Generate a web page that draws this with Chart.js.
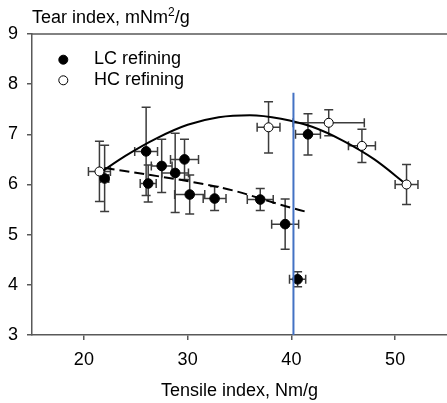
<!DOCTYPE html>
<html>
<head>
<meta charset="utf-8">
<script src="https://cdn.jsdelivr.net/npm/chart.js@4.4.0/dist/chart.umd.min.js"></script>
<style>
  html, body { margin: 0; padding: 0; background: #fff; }
  #wrap { width: 447px; height: 403px; position: relative; }
</style>
</head>
<body>
<div id="wrap"><canvas id="tearChart" width="447" height="403"></canvas></div>
<script>
// LC refining (filled circles)
const lcTensile = [22.0, 26.0, 26.2, 27.5, 28.8, 29.7, 30.2, 32.6, 37.0, 39.4, 40.6, 41.6];
const lcTear = [6.12, 6.66, 6.02, 6.37, 6.23, 6.50, 5.80, 5.72, 5.70, 5.21, 4.11, 7.00];
const lcTensileErr = [0.4, 1.1, 0.77, 1.0, 1.28, 1.35, 1.45, 1.1, 1.25, 1.3, 0.78, 1.2];
const lcTearErr = [0.66, 0.88, 0.37, 0.53, 0.79, 0.40, 0.39, 0.24, 0.22, 0.50, 0.15, 0.41];

// HC refining (open circles)
const hcTensile = [21.5, 37.8, 43.6, 46.8, 51.1];
const hcTear = [6.26, 7.14, 7.23, 6.77, 6.00];
const hcTensileErr = [1.06, 1.1, 3.43, 1.3, 1.1];
const hcTearErr = [0.60, 0.51, 0.26, 0.33, 0.40];

// fitted curves
const solidFitX = [21.6, 24, 27, 30, 33, 36, 39, 42, 45, 48, 51.1];
const solidFitY = [6.24, 6.57, 6.92, 7.19, 7.34, 7.38, 7.31, 7.15, 6.87, 6.50, 6.00];
const dashFitX = [22.0, 27.3, 30.2, 34.4, 38.9, 41.7];
const dashFitY = [6.33, 6.16, 6.06, 5.88, 5.60, 5.44];

// vertical marker line
const markerX = [40.2, 40.2];
const markerY = [7.83, 3];

const xTicks = [20, 30, 40, 50];
const yTicks = [3, 4, 5, 6, 7, 8, 9];

const FONT = 'Arial, "Liberation Sans", sans-serif';
const AXIS_GREY = '#595959';

function toPoints(xs, ys) {
    return xs.map((x, i) => ({ x: x, y: ys[i] }));
}

// Error bars, drawn under the markers
const errorBarPlugin = {
    id: 'errorBars',
    beforeDatasetsDraw(chart) {
        const ctx = chart.ctx;
        const xs = chart.scales.x, ys = chart.scales.y;
        const cap = 4.5;
        const groups = [
            [lcTensile, lcTear, lcTensileErr, lcTearErr],
            [hcTensile, hcTear, hcTensileErr, hcTearErr]
        ];
        ctx.save();
        ctx.strokeStyle = '#3c3c3c';
        ctx.lineWidth = 1.5;
        groups.forEach(g => {
            g[0].forEach((xv, i) => {
                const cx = xs.getPixelForValue(xv);
                const cy = ys.getPixelForValue(g[1][i]);
                const x1 = xs.getPixelForValue(xv - g[2][i]);
                const x2 = xs.getPixelForValue(xv + g[2][i]);
                const y1 = ys.getPixelForValue(g[1][i] + g[3][i]);
                const y2 = ys.getPixelForValue(g[1][i] - g[3][i]);
                ctx.beginPath();
                ctx.moveTo(x1, cy); ctx.lineTo(x2, cy);
                ctx.moveTo(x1, cy - cap); ctx.lineTo(x1, cy + cap);
                ctx.moveTo(x2, cy - cap); ctx.lineTo(x2, cy + cap);
                ctx.moveTo(cx, y1); ctx.lineTo(cx, y2);
                ctx.moveTo(cx - cap, y1); ctx.lineTo(cx + cap, y1);
                ctx.moveTo(cx - cap, y2); ctx.lineTo(cx + cap, y2);
                ctx.stroke();
            });
        });
        ctx.restore();
    }
};

// Top frame line, y title and legend
const decorPlugin = {
    id: 'decor',
    afterDraw(chart) {
        const ctx = chart.ctx;
        const area = chart.chartArea;
        ctx.save();
        ctx.strokeStyle = AXIS_GREY;
        ctx.lineWidth = 1.5;
        ctx.beginPath();
        ctx.moveTo(area.left, area.top);
        ctx.lineTo(area.right, area.top);
        ctx.stroke();

        ctx.fillStyle = '#000';
        ctx.textBaseline = 'alphabetic';
        ctx.textAlign = 'left';
        ctx.font = '18px ' + FONT;
        let tx = 32;
        const base = 23;
        const part1 = 'Tear index, mNm';
        ctx.fillText(part1, tx, base);
        tx += ctx.measureText(part1).width;
        ctx.font = '12px ' + FONT;
        ctx.fillText('2', tx, base - 7);
        tx += ctx.measureText('2').width;
        ctx.font = '18px ' + FONT;
        ctx.fillText('/g', tx, base);

        // legend
        const items = [
            { label: 'LC refining', fill: '#000', y: 59.7, base: 64.3 },
            { label: 'HC refining', fill: '#fff', y: 80.3, base: 85 }
        ];
        items.forEach(it => {
            ctx.beginPath();
            ctx.arc(63.3, it.y, 4.5, 0, Math.PI * 2);
            ctx.fillStyle = it.fill;
            ctx.fill();
            ctx.strokeStyle = '#000';
            ctx.lineWidth = 1;
            ctx.stroke();
            ctx.fillStyle = '#000';
            ctx.fillText(it.label, 94, it.base);
        });
        ctx.restore();
    }
};

document.addEventListener('DOMContentLoaded', function() {
    const ctx = document.getElementById('tearChart').getContext('2d');
    new Chart(ctx, {
        type: 'scatter',
        data: {
            datasets: [
                {
                    label: 'marker',
                    type: 'line',
                    data: toPoints(markerX, markerY),
                    borderColor: '#4472C4',
                    borderWidth: 2,
                    pointRadius: 0,
                    order: 0
                },
                {
                    label: 'HC refining',
                    data: toPoints(hcTensile, hcTear),
                    pointStyle: 'circle',
                    pointRadius: 4.5,
                    backgroundColor: '#fff',
                    borderColor: '#000',
                    borderWidth: 1,
                    order: 1
                },
                {
                    label: 'LC refining',
                    data: toPoints(lcTensile, lcTear),
                    pointStyle: 'circle',
                    pointRadius: 4.8,
                    backgroundColor: '#000',
                    borderColor: '#000',
                    borderWidth: 1,
                    order: 2
                },
                {
                    label: 'fit all',
                    type: 'line',
                    data: toPoints(solidFitX, solidFitY),
                    borderColor: '#000',
                    borderWidth: 2,
                    pointRadius: 0,
                    cubicInterpolationMode: 'monotone',
                    order: 3
                },
                {
                    label: 'fit LC',
                    type: 'line',
                    data: toPoints(dashFitX, dashFitY),
                    borderColor: '#000',
                    borderWidth: 2,
                    borderDash: [10, 5],
                    pointRadius: 0,
                    cubicInterpolationMode: 'monotone',
                    order: 4
                }
            ]
        },
        options: {
            responsive: false,
            animation: false,
            layout: { autoPadding: false, padding: { top: 34, right: 0, left: 0, bottom: 0 } },
            plugins: {
                legend: { display: false },
                tooltip: { enabled: false }
            },
            scales: {
                x: {
                    type: 'linear',
                    min: 15,
                    max: 55,
                    afterBuildTicks: axis => { axis.ticks = xTicks.map(v => ({ value: v })); },
                    afterFit: axis => { axis.height = 68; },
                    grid: { drawOnChartArea: false, drawTicks: true, tickLength: 5, color: AXIS_GREY, lineWidth: 1.5 },
                    border: { display: true, color: AXIS_GREY, width: 1.5 },
                    ticks: { color: '#000', font: { size: 18, family: FONT }, padding: 9, maxRotation: 0 },
                    title: { display: true, text: 'Tensile index, Nm/g', color: '#000', font: { size: 18, family: FONT }, padding: { top: 0, bottom: 1.5 } }
                },
                y: {
                    type: 'linear',
                    min: 3,
                    max: 9,
                    afterBuildTicks: axis => { axis.ticks = yTicks.map(v => ({ value: v })); },
                    afterFit: axis => { axis.width = 32; },
                    grid: { drawOnChartArea: false, drawTicks: true, tickLength: 5, color: AXIS_GREY, lineWidth: 1.5 },
                    border: { display: true, color: AXIS_GREY, width: 1.5 },
                    ticks: { color: '#000', font: { size: 18, family: FONT }, padding: 9 }
                }
            }
        },
        plugins: [errorBarPlugin, decorPlugin]
    });
});
</script>
</body>
</html>
